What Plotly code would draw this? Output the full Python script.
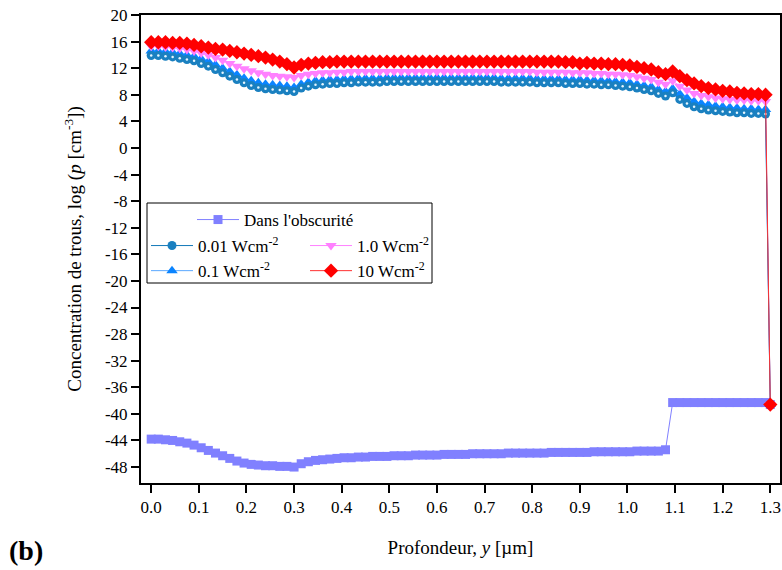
import plotly.graph_objects as go

# depth positions (µm)
depth = [0.000, 0.015, 0.030, 0.045, 0.060, 0.075, 0.090, 0.105, 0.120, 0.135,
         0.150, 0.165, 0.180, 0.195, 0.210, 0.225, 0.240, 0.255, 0.270, 0.285,
         0.300, 0.315, 0.330, 0.345, 0.360, 0.375, 0.390, 0.405, 0.420, 0.435,
         0.450, 0.465, 0.480, 0.495, 0.510, 0.525, 0.540, 0.555, 0.570, 0.585,
         0.600, 0.615, 0.630, 0.645, 0.660, 0.675, 0.690, 0.705, 0.720, 0.735,
         0.750, 0.765, 0.780, 0.795, 0.810, 0.825, 0.840, 0.855, 0.870, 0.885,
         0.900, 0.915, 0.930, 0.945, 0.960, 0.975, 0.990, 1.005, 1.020, 1.035,
         1.050, 1.065, 1.080, 1.095, 1.110, 1.125, 1.140, 1.155, 1.170, 1.185,
         1.200, 1.215, 1.230, 1.245, 1.260, 1.275, 1.290, 1.300]

p_dark = [-43.8, -43.8, -43.9, -44.0, -44.2, -44.4, -44.7, -45.1, -45.5, -45.9,
          -46.3, -46.7, -47.1, -47.4, -47.6, -47.7, -47.8, -47.8, -47.9, -47.9,
          -48.0, -47.5, -47.2, -47.0, -46.9, -46.8, -46.7, -46.6, -46.6, -46.5,
          -46.5, -46.4, -46.4, -46.4, -46.3, -46.3, -46.3, -46.2, -46.2, -46.2,
          -46.2, -46.1, -46.1, -46.1, -46.1, -46.0, -46.0, -46.0, -46.0, -46.0,
          -45.9, -45.9, -45.9, -45.9, -45.9, -45.9, -45.8, -45.8, -45.8, -45.8,
          -45.8, -45.8, -45.7, -45.7, -45.7, -45.7, -45.7, -45.7, -45.6, -45.6,
          -45.6, -45.6, -45.4, -38.3, -38.3, -38.3, -38.3, -38.3, -38.3, -38.3,
          -38.3, -38.3, -38.3, -38.3, -38.3, -38.3, -38.3, -38.6]

p_001 = [13.9, 13.9, 13.8, 13.7, 13.5, 13.3, 13.1, 12.7, 12.3, 11.8,
         11.3, 10.8, 10.3, 9.8, 9.4, 9.1, 8.9, 8.8, 8.7, 8.6,
         8.5, 9.0, 9.3, 9.5, 9.6, 9.7, 9.7, 9.8, 9.8, 9.9,
         9.9, 9.9, 9.9, 10.0, 10.0, 10.0, 10.0, 10.0, 10.0, 10.0,
         10.0, 10.0, 10.0, 10.0, 10.0, 10.0, 10.0, 10.0, 10.0, 9.9,
         9.9, 9.9, 9.9, 9.9, 9.8, 9.8, 9.8, 9.8, 9.7, 9.7,
         9.7, 9.6, 9.6, 9.5, 9.5, 9.4, 9.3, 9.2, 9.0, 8.8,
         8.6, 8.2, 7.8, 8.3, 7.3, 6.7, 6.2, 5.9, 5.7, 5.6,
         5.5, 5.4, 5.3, 5.3, 5.2, 5.2, 5.1, -38.6]

p_01 = [14.6, 14.6, 14.5, 14.4, 14.2, 14.0, 13.8, 13.4, 13.0, 12.5,
        12.0, 11.5, 11.0, 10.5, 10.1, 9.8, 9.6, 9.5, 9.4, 9.3,
        9.1, 9.6, 9.9, 10.1, 10.2, 10.3, 10.3, 10.4, 10.4, 10.5,
        10.5, 10.5, 10.5, 10.6, 10.6, 10.6, 10.6, 10.6, 10.6, 10.6,
        10.6, 10.6, 10.6, 10.6, 10.6, 10.6, 10.6, 10.6, 10.6, 10.5,
        10.5, 10.5, 10.5, 10.5, 10.4, 10.4, 10.4, 10.4, 10.3, 10.3,
        10.3, 10.2, 10.2, 10.1, 10.1, 10.0, 9.9, 9.8, 9.6, 9.4,
        9.2, 8.8, 8.5, 8.9, 8.1, 7.5, 7.0, 6.7, 6.5, 6.3,
        6.2, 6.1, 6.0, 5.9, 5.9, 5.8, 5.8, -38.6]

p_1 = [15.3, 15.3, 15.2, 15.1, 15.0, 14.8, 14.6, 14.3, 14.0, 13.6,
       13.2, 12.7, 12.3, 11.9, 11.6, 11.3, 11.1, 10.9, 10.8, 10.7,
       10.6, 10.9, 11.1, 11.2, 11.3, 11.3, 11.4, 11.4, 11.5, 11.5,
       11.5, 11.5, 11.5, 11.5, 11.5, 11.5, 11.5, 11.5, 11.5, 11.5,
       11.5, 11.5, 11.5, 11.5, 11.5, 11.5, 11.5, 11.5, 11.5, 11.5,
       11.5, 11.5, 11.5, 11.5, 11.4, 11.4, 11.4, 11.4, 11.4, 11.3,
       11.3, 11.3, 11.2, 11.2, 11.1, 11.1, 11.0, 10.9, 10.7, 10.5,
       10.3, 9.9, 9.6, 10.1, 9.3, 8.7, 8.2, 7.9, 7.7, 7.5,
       7.4, 7.3, 7.2, 7.2, 7.1, 7.1, 7.0, -38.6]

p_10 = [15.9, 15.9, 15.9, 15.8, 15.8, 15.7, 15.5, 15.3, 15.1, 14.9,
        14.8, 14.6, 14.4, 14.2, 14.0, 13.8, 13.6, 13.3, 13.0, 12.6,
        12.1, 12.5, 12.7, 12.8, 12.9, 12.9, 13.0, 13.0, 13.0, 13.0,
        13.0, 13.0, 13.0, 13.0, 13.0, 13.0, 13.0, 13.0, 13.0, 13.0,
        13.0, 13.0, 13.0, 13.0, 13.0, 13.0, 13.0, 13.0, 13.0, 13.0,
        13.0, 13.0, 13.0, 13.0, 13.0, 13.0, 13.0, 13.0, 12.9, 12.9,
        12.7, 12.8, 12.7, 12.7, 12.6, 12.6, 12.5, 12.4, 12.2, 12.0,
        11.8, 11.4, 11.1, 11.5, 10.8, 10.2, 9.7, 9.3, 9.0, 8.8,
        8.6, 8.5, 8.3, 8.2, 8.1, 8.1, 8.0, -38.6]

x_ticks = [0.0, 0.1, 0.2, 0.3, 0.4, 0.5, 0.6, 0.7, 0.8, 0.9, 1.0, 1.1, 1.2, 1.3]
x_tick_labels = ["0.0", "0.1", "0.2", "0.3", "0.4", "0.5", "0.6", "0.7", "0.8",
                 "0.9", "1.0", "1.1", "1.2", "1.3"]
y_ticks = [20, 16, 12, 8, 4, 0, -4, -8, -12, -16, -20, -24, -28, -32, -36, -40, -44, -48]
y_tick_labels = ["20", "16", "12", "8", "4", "0", "-4", "-8", "-12", "-16", "-20",
                 "-24", "-28", "-32", "-36", "-40", "-44", "-48"]

FONT = "Liberation Serif, Times New Roman, serif"

fig = go.Figure()

fig.add_trace(go.Scatter(
    x=depth, y=p_dark, mode="lines+markers", name="Dans l'obscurité",
    line=dict(color="#8080FF", width=1),
    marker=dict(symbol="square", size=9, color="#8080FF"),
    legend="legend", legendrank=1))

fig.add_trace(go.Scatter(
    x=depth, y=p_01, mode="lines+markers", name="0.1 Wcm<sup>-2</sup>",
    line=dict(color="#5AA8FF", width=1),
    marker=dict(symbol="triangle-up", size=10, color="#0A84FF"),
    legend="legend2", legendrank=2))

fig.add_trace(go.Scatter(
    x=depth, y=p_1, mode="lines+markers", name="1.0 Wcm<sup>-2</sup>",
    line=dict(color="#FF80FF", width=1),
    marker=dict(symbol="triangle-down", size=10, color="#FF80FF"),
    legend="legend3", legendrank=1))

fig.add_trace(go.Scatter(
    x=depth, y=p_001, mode="lines+markers", name="0.01 Wcm<sup>-2</sup>",
    line=dict(color="#1278B8", width=1),
    marker=dict(symbol="circle", size=9, color="#1A80C0"),
    legend="legend2", legendrank=1))

fig.add_trace(go.Scatter(
    x=depth, y=p_001, mode="markers", showlegend=False, hoverinfo="skip",
    marker=dict(symbol="circle", size=2.5, color="#E6F6FF")))

fig.add_trace(go.Scatter(
    x=depth, y=p_10, mode="lines+markers", name="10 Wcm<sup>-2</sup>",
    line=dict(color="#FF3030", width=1),
    marker=dict(symbol="diamond", size=11, color="#FF0000"),
    legend="legend3", legendrank=2))

def px_x(p):
    return (p - 141) / 639.0

def px_y(p):
    return (483 - p) / 468.0

leg_common = dict(font=dict(family=FONT, size=17, color="black"),
                  bgcolor="rgba(0,0,0,0)", borderwidth=0,
                  xanchor="left", yanchor="top", tracegroupgap=0,
                  itemwidth=42)

fig.update_layout(
    width=782, height=570,
    margin=dict(l=141, r=2, t=15, b=87, autoexpand=False),
    paper_bgcolor="white", plot_bgcolor="white",
    font=dict(family=FONT, size=16, color="black"),
    legend=dict(x=px_x(192), y=px_y(202), **leg_common),
    legend2=dict(x=px_x(146), y=px_y(228), **leg_common),
    legend3=dict(x=px_x(305), y=px_y(228), **leg_common),
    shapes=[dict(type="rect", xref="paper", yref="paper",
                 x0=px_x(147), x1=px_x(432), y0=px_y(283), y1=px_y(203),
                 line=dict(color="black", width=1), fillcolor="white",
                 layer="above")],
    annotations=[dict(text="<b>(b)</b>", xref="paper", yref="paper",
                      x=px_x(7), y=px_y(550), xanchor="left", yanchor="middle",
                      showarrow=False, font=dict(family=FONT, size=28, color="black"))],
)

fig.update_xaxes(
    range=[-0.0214, 1.3204], tickvals=x_ticks, ticktext=x_tick_labels,
    ticks="outside", ticklen=8, tickwidth=2, tickcolor="black",
    showline=True, linewidth=2, linecolor="black", mirror=True,
    showgrid=False, zeroline=False, automargin=False,
    tickfont=dict(family=FONT, size=17, color="black"),
    title=dict(text="Profondeur, <i>y</i> [µm]", standoff=24,
               font=dict(family=FONT, size=19, color="black")))

fig.update_yaxes(
    range=[-50.4, 20], tickvals=y_ticks, ticktext=y_tick_labels,
    ticks="outside", ticklen=8, tickwidth=2, tickcolor="black",
    showline=True, linewidth=2, linecolor="black", mirror=True,
    showgrid=False, zeroline=False, automargin=False,
    tickfont=dict(family=FONT, size=17, color="black"),
    title=dict(text="Concentration de trous, log (<i>p</i> [cm<sup>-3</sup>])",
               standoff=18, font=dict(family=FONT, size=19, color="black")))

fig.write_html("out.html", config={"displayModeBar": False},
               post_script="document.body.style.margin='0';document.body.style.padding='0';")
